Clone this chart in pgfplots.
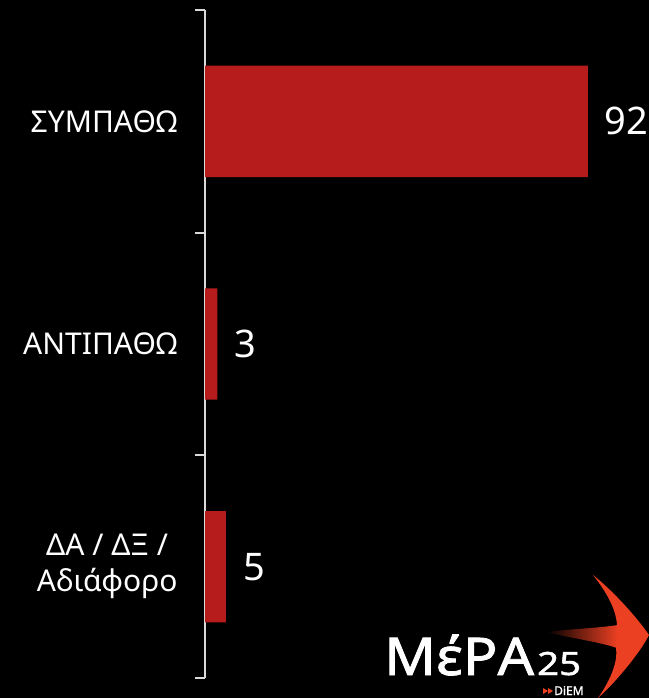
\documentclass[border=0pt]{standalone}
\usepackage{pgfplots}
\pgfplotsset{compat=1.18}
\usepackage{fontspec}
\setmainfont{Noto Sans}
\newfontfamily\logofont[FakeBold=1.5]{Noto Sans}
\definecolor{barred}{RGB}{183,28,28}
\definecolor{axisgray}{RGB}{217,217,217}
\definecolor{logored}{RGB}{236,64,34}
\begin{document}
\begin{tikzpicture}
\fill[black] (0,0) rectangle (649bp,698bp);
\begin{axis}[
  at={(205bp,20bp)}, anchor=south west,
  scale only axis, width=441bp, height=668bp,
  xmin=0, xmax=106, ymin=-0.5, ymax=2.5, y dir=reverse,
  xbar, bar width=0.5, bar shift=0pt,
  hide x axis,
  axis y line*=left,
  y axis line style={draw=axisgray, line width=2bp, -},
  ytick={0,1,2},
  yticklabels={ΣΥΜΠΑΘΩ, ΑΝΤΙΠΑΘΩ, {ΔΑ / ΔΞ /\\Αδιάφορο}},
  yticklabel style={align=center, text=white, font=\fontsize{30bp}{36bp}\selectfont, xshift=-24bp},
  major tick length=0pt,
  minor ytick={-0.5,0.5,1.5,2.5},
  minor tick length=10bp,
  tick align=outside,
  minor tick style={draw=axisgray, line width=2bp},
  clip=false,
  /pgf/number format/assume math mode=true,
  nodes near coords,
  every node near coord/.append style={anchor=west, inner sep=0pt, xshift=17bp, text=white, font=\fontsize{38bp}{40bp}\selectfont},
]
\addplot[fill=barred, draw=none] coordinates {(92,0) (3,1) (5,2)};
\end{axis}
\begin{scope}[x=1bp, y=1bp]
  % logo swallow
  \shade[left color=black, right color=logored]
     (617,50) .. controls (600,56) and (570,60) .. (546,66)
     .. controls (570,69) and (600,70) .. (618,73) -- cycle;
  \fill[logored]
     (593,123) .. controls (612,108) and (636,82) .. (649,63)
     .. controls (640,45) and (615,15) .. (598,0)
     .. controls (612,20) and (618,38) .. (616,50)
     -- (617,73)
     .. controls (616,90) and (605,108) .. cycle;
  \node[anchor=base west, inner sep=0pt, text=white, font=\logofont\fontsize{52bp}{52bp}\selectfont] at (384,23) {\scalebox{1.1}[1]{ΜέΡΑ}};
  \node[anchor=base west, inner sep=0pt, text=white, font=\logofont\fontsize{32bp}{32bp}\selectfont] at (537,23) {\scalebox{1.2}[1]{25}};
  \fill[logored] (543,10) -- (543,4) -- (548,7) -- cycle;
  \fill[logored] (548,10) -- (548,4) -- (553,7) -- cycle;
  \node[anchor=base west, inner sep=0pt, text=white, font=\logofont\fontsize{12bp}{12bp}\selectfont] at (554,3) {DiEM};
\end{scope}
\pgfresetboundingbox
\useasboundingbox (0,0) rectangle (649bp,698bp);
\end{tikzpicture}
\end{document}
